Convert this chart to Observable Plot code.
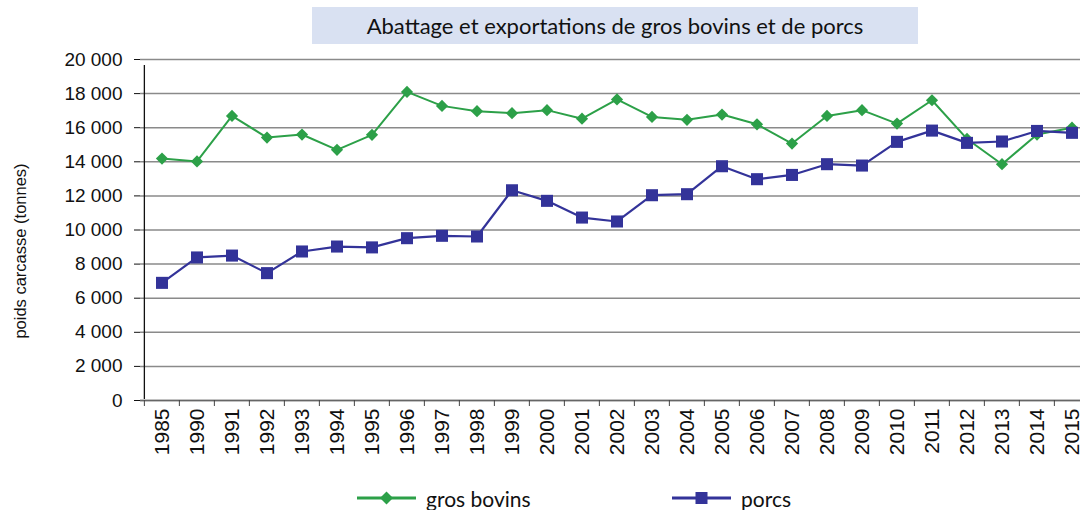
<!DOCTYPE html>
<html>
<head>
<meta charset="utf-8">
<script src="https://cdn.jsdelivr.net/npm/d3@7"></script>
<script src="https://cdn.jsdelivr.net/npm/@observablehq/plot@0.6"></script>
<style>
  html, body { margin: 0; padding: 0; background: #fff; overflow: hidden; }
  #wrap { position: relative; width: 1080px; height: 510px; overflow: hidden; }
  #chart { position: absolute; left: 0; top: 0; width: 1100px; }
  #chart svg { max-width: none !important; }
  #title { position: absolute; left: 312px; top: 7px; width: 606px; height: 37px;
    background: #d9e1f2; display: flex; align-items: center; justify-content: center;
    font-family: Lato, "Open Sans", sans-serif; font-size: 22px; color: #111; }
  #ylabel { position: absolute; left: 20px; top: 251px; transform: translate(-50%, -50%) rotate(-90deg);
    white-space: nowrap; font-family: "Liberation Sans", Arial, sans-serif; font-size: 16.5px; color: #111; }
  .leg { position: absolute; top: 484px; height: 28px; display: flex; align-items: center;
    font-family: Lato, "Open Sans", sans-serif; font-size: 21px; color: #111; }
  .leg svg { margin-right: 10px; }
</style>
</head>
<body>
<div id="wrap">
  <div id="chart"></div>
  <div id="title">Abattage et exportations de gros bovins et de porcs</div>
  <div id="ylabel">poids carcasse (tonnes)</div>
  <div class="leg" style="left:357px">
    <svg width="59" height="16"><line x1="0" y1="8" x2="59" y2="8" stroke="#2ca048" stroke-width="3"/><path d="M29.5,1.5 L36,8 L29.5,14.5 L23,8 Z" fill="#2ca048"/></svg>
    <span>gros bovins</span>
  </div>
  <div class="leg" style="left:672px">
    <svg width="59" height="16"><line x1="0" y1="8" x2="59" y2="8" stroke="#333399" stroke-width="3"/><rect x="23.5" y="2" width="12" height="12" fill="#333399"/></svg>
    <span>porcs</span>
  </div>
</div>
<script>
const years = ["1985","1990","1991","1992","1993","1994","1995","1996","1997","1998","1999","2000","2001","2002","2003","2004","2005","2006","2007","2008","2009","2010","2011","2012","2013","2014","2015"];
const grosBovins = [14190,14020,16690,15420,15600,14700,15580,18100,17280,16970,16850,17030,16530,17660,16630,16460,16770,16200,15070,16690,17030,16240,17610,15340,13860,15600,16000];
const porcs = [6900,8390,8500,7470,8740,9030,8980,9520,9660,9620,12330,11710,10730,10500,12040,12100,13740,12980,13230,13860,13780,15170,15830,15110,15190,15810,15700];
const yTicks = [0,2000,4000,6000,8000,10000,12000,14000,16000,18000,20000];

const bovinsData = years.map((y, i) => ({year: y, value: grosBovins[i]}));
const porcsData = years.map((y, i) => ({year: y, value: porcs[i]}));

const W = 1095, H = 510, ML = 140, MR = 3, MT = 59, MB = 110;
const bw = (W - ML - MR) / years.length;
const fmt = d3.formatLocale({decimal: ",", thousands: " ", grouping: [3], currency: ["", " €"]}).format(",");

const green = "#2ca048", blue = "#333399";

const plot = Plot.plot({
  width: W, height: H,
  marginTop: MT, marginBottom: MB, marginLeft: ML, marginRight: MR,
  style: {fontFamily: "'Liberation Sans', Arial, sans-serif", color: "#111", background: "transparent", maxWidth: "none"},
  x: {type: "band", domain: years, padding: 0, label: null},
  y: {domain: [0, 20000], label: null},
  marks: [
    Plot.gridY(yTicks, {stroke: "#8a8a8a", strokeOpacity: 1, strokeWidth: 1.5}),
    Plot.ruleY([0], {stroke: "#666", strokeWidth: 1.5}),
    Plot.ruleX(years, {x: d => d, dx: -bw / 2, y1: 0, y2: 0, insetBottom: -6, stroke: "#444", strokeWidth: 1}),
    Plot.ruleX([years[years.length - 1]], {x: d => d, dx: bw / 2, y1: 0, y2: 0, insetBottom: -6, stroke: "#444", strokeWidth: 1}),
    Plot.ruleX([years[0]], {x: d => d, dx: -bw / 2, y1: 0, y2: 20000, insetTop: -1, insetBottom: -6, stroke: "#111", strokeWidth: 1.3}),
    Plot.axisY({ticks: yTicks, tickSize: 6, tickPadding: 12, tickFormat: fmt, fontSize: 19, stroke: "#111", label: null}),
    Plot.axisX({tickRotate: -90, tickSize: 0, tickPadding: 8, fontSize: 21, label: null}),
    Plot.line(bovinsData, {x: "year", y: "value", stroke: green, strokeWidth: 2}),
    Plot.dot(bovinsData, {x: "year", y: "value", symbol: "diamond2", r: 5.5, fill: green, stroke: "none"}),
    Plot.line(porcsData, {x: "year", y: "value", stroke: blue, strokeWidth: 2.2}),
    Plot.dot(porcsData, {x: "year", y: "value", symbol: "square", r: 6.8, fill: blue, stroke: "none"})
  ]
});
document.getElementById("chart").appendChild(plot);
</script>
</body>
</html>
